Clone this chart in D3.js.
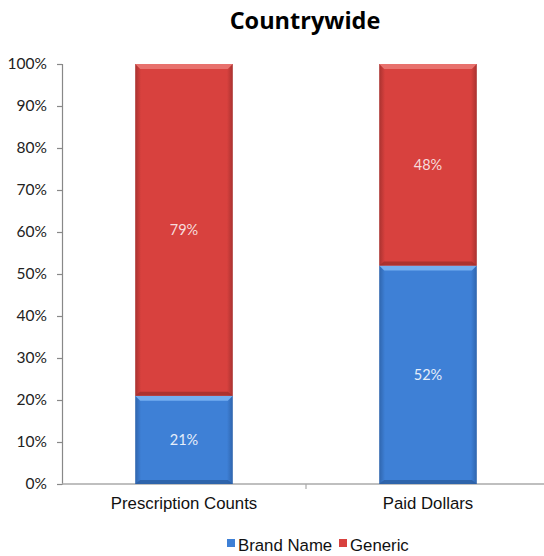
<!DOCTYPE html>
<html><head><meta charset="utf-8">
<script src="https://cdn.jsdelivr.net/npm/d3@7/dist/d3.min.js"></script>
<style>body{margin:0;background:#fff;}svg{display:block;}</style>
</head><body>
<script>
const categories = ["Prescription Counts", "Paid Dollars"];
const seriesNames = ["Brand Name", "Generic"];
const brandValues = [0.21, 0.52];
const genericValues = [0.79, 0.48];
const yTicks = [0,0.1,0.2,0.3,0.4,0.5,0.6,0.7,0.8,0.9,1.0];
const title = "Countrywide";

const W = 544, H = 556;
const svg = d3.select("body").append("svg").attr("width", W).attr("height", H);
const defs = svg.append("defs");

function mkGrad(id, edge, mid){
  const g = defs.append("linearGradient").attr("id", id).attr("x1","0").attr("x2","1").attr("y1","0").attr("y2","0");
  g.append("stop").attr("offset","0").attr("stop-color", edge);
  g.append("stop").attr("offset","0.06").attr("stop-color", mid);
  g.append("stop").attr("offset","0.94").attr("stop-color", mid);
  g.append("stop").attr("offset","1").attr("stop-color", edge);
}
mkGrad("gBlue", "#2f65ad", "#3e80d6");
mkGrad("gRed", "#a93230", "#d8413e");

const colors = {"Brand Name": {fill:"url(#gBlue)", top:"#74aef0", bot:"#2a5da0", legend:"#3e80d6", label:"#e6eefa"},
                "Generic": {fill:"url(#gRed)", top:"#e8716d", bot:"#a32e2c", legend:"#d8413e", label:"#f6dcdc"}};

const x = d3.scaleBand().domain(categories).range([62, 550]).paddingInner(0.6).paddingOuter(0.3);
const y = d3.scaleLinear().domain([0, 1]).range([484, 64]);

svg.append("text").attr("x", 305).attr("y", 29).attr("text-anchor","middle")
  .attr("font-family","'Open Sans', sans-serif").attr("font-weight","bold").attr("font-size", 23.5)
  .attr("fill","#000").text(title);

// y axis
const yAxis = d3.axisLeft(y).tickValues(yTicks).tickFormat(d3.format(".0%")).tickSize(5).tickPadding(10);
const gy = svg.append("g").attr("transform","translate(62,0)").call(yAxis);
gy.selectAll("path, line").attr("stroke","#888").attr("stroke-width",1.2);
gy.selectAll("text").attr("font-family","Lato, sans-serif").attr("font-size",15.5).attr("fill","#222");

// x axis
const gx = svg.append("g").attr("transform","translate(0,484)");
gx.append("line").attr("x1",62).attr("x2",550).attr("stroke","#aaa").attr("stroke-width",1.5);
gx.append("line").attr("x1",306).attr("x2",306).attr("y1",0).attr("y2",5).attr("stroke","#aaa").attr("stroke-width",1.2);
gx.selectAll("text.cat").data(categories).join("text").attr("class","cat")
  .attr("x", d => x(d) + x.bandwidth()/2).attr("y", 25).attr("text-anchor","middle")
  .attr("font-family","'Liberation Sans', Arial, sans-serif").attr("font-size",16.8).attr("fill","#111").text(d => d);

// stacked data
const rows = categories.map((c,i) => ({cat:c, "Brand Name": brandValues[i], "Generic": genericValues[i]}));
const stack = d3.stack().keys(seriesNames)(rows);

stack.forEach(layer => {
  const c = colors[layer.key];
  const g = svg.append("g");
  layer.forEach(d => {
    const x0 = x(d.data.cat), bw = x.bandwidth();
    const yt = y(d[1]), yb = y(d[0]);
    g.append("rect").attr("x", x0).attr("y", yt).attr("width", bw).attr("height", yb - yt).attr("fill", c.fill);
    g.append("path").attr("d", `M${x0},${yt} L${x0+bw},${yt} L${x0+bw-5},${yt+5} L${x0+5},${yt+5} Z`).attr("fill", c.top);
    g.append("path").attr("d", `M${x0},${yb} L${x0+bw},${yb} L${x0+bw-5},${yb-4} L${x0+5},${yb-4} Z`).attr("fill", c.bot).attr("opacity",0.8);
    g.append("text").attr("x", x0 + bw/2).attr("y", (yt+yb)/2 + 5).attr("text-anchor","middle")
      .attr("font-family","Lato, sans-serif").attr("font-size",14.5).attr("fill", c.label)
      .text(d3.format(".0%")(d[1]-d[0]));
  });
});

// legend
const legendX = [227, 339];
const lg = svg.append("g");
seriesNames.forEach((s,i) => {
  lg.append("rect").attr("x", legendX[i]).attr("y", 539).attr("width", 8).attr("height", 8).attr("fill", colors[s].legend);
  lg.append("text").attr("x", legendX[i] + 11).attr("y", 551).attr("font-family","'Liberation Sans', Arial, sans-serif")
    .attr("font-size",16.8).attr("fill","#111").text(s);
});
</script>
</body></html>
